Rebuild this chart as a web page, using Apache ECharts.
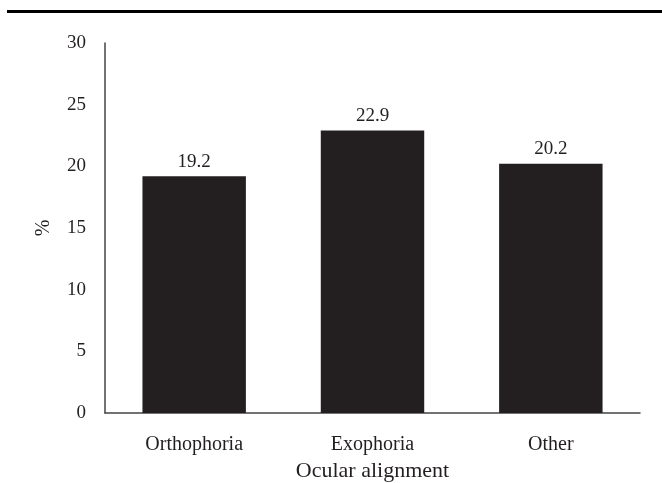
<!DOCTYPE html>
<html><head><meta charset="utf-8">
<script src="https://cdn.jsdelivr.net/npm/echarts@6/dist/echarts.min.js"></script>
<style>html,body{margin:0;padding:0;background:#fff}#c{width:662px;height:483px}</style>
</head><body><div id="c"></div>
<script>
const categories = ['Orthophoria', 'Exophoria', 'Other'];
const values = [19.2, 22.9, 20.2];
const yTicks = [0, 5, 10, 15, 20, 25, 30];
const FONT = '"Liberation Serif", "Times New Roman", serif';
const INK = '#231f20';
const chart = echarts.init(document.getElementById('c'), null, {renderer: 'canvas'});
chart.setOption({
  animation: false,
  backgroundColor: '#fff',
  graphic: [{type: 'rect', shape: {x: 7, y: 10, width: 655, height: 3}, style: {fill: '#000'}}],
  grid: {left: 105, right: 22, top: 43, bottom: 70, containLabel: false, outerBoundsMode: 'none'},
  xAxis: {
    type: 'category', data: categories,
    name: 'Ocular alignment', nameLocation: 'middle', nameGap: 39,
    nameTextStyle: {fontFamily: FONT, fontSize: 22, color: INK},
    axisLine: {lineStyle: {color: '#444', width: 1.5}},
    axisTick: {show: false},
    axisLabel: {fontFamily: FONT, fontSize: 20, color: INK, margin: 22}
  },
  yAxis: {
    type: 'value', min: yTicks[0], max: yTicks[yTicks.length - 1], interval: 5,
    name: '%', nameLocation: 'middle', nameGap: 51, nameRotate: 90,
    nameTextStyle: {fontFamily: FONT, fontSize: 20, color: INK},
    axisLine: {show: true, lineStyle: {color: '#444', width: 1.5}},
    axisTick: {show: false},
    splitLine: {show: false},
    axisLabel: {fontFamily: FONT, fontSize: 19, color: INK, margin: 19}
  },
  series: [{
    type: 'bar', data: values, barWidth: '58%',
    itemStyle: {color: INK},
    label: {show: true, position: 'top', distance: 5, fontFamily: FONT, fontSize: 19, color: INK,
      formatter: p => p.value.toFixed(1)}
  }]
});
</script></body></html>
